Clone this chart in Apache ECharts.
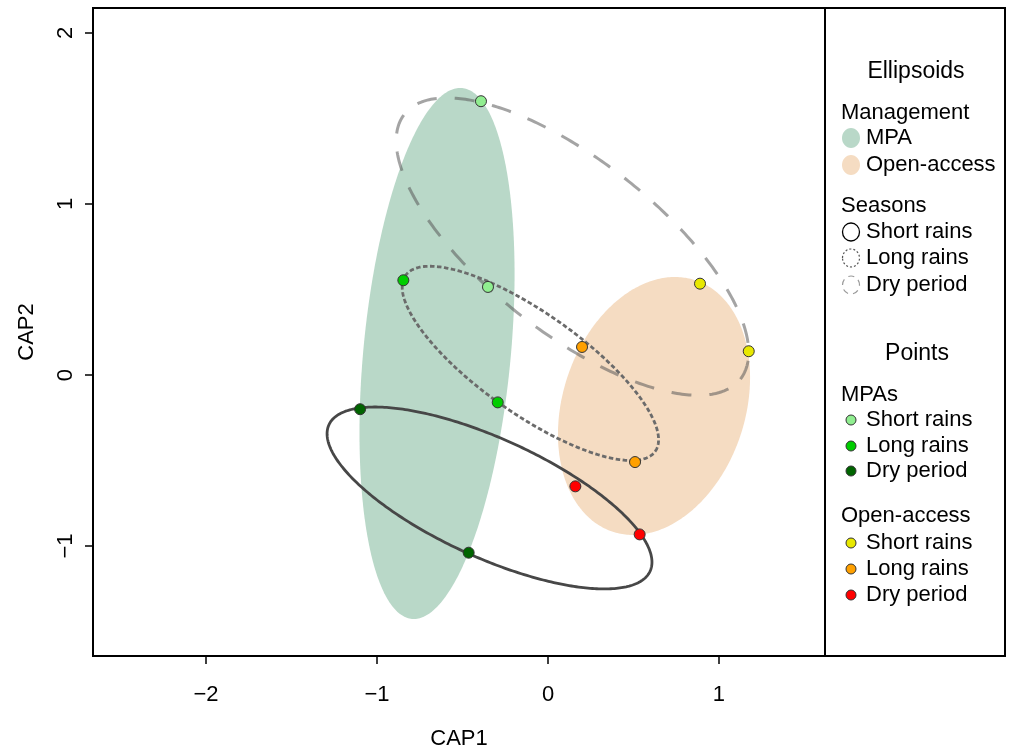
<!DOCTYPE html>
<html>
<head>
<meta charset="utf-8">
<script src="https://cdn.jsdelivr.net/npm/echarts@6/dist/echarts.min.js"></script>
<style>
html,body{margin:0;padding:0;background:#fff;}
#chart{width:1013px;height:749px;}
</style>
</head>
<body>
<div id="chart"></div>
<script>
// ---- Data ----
const seasons = ['Short rains', 'Long rains', 'Dry period'];
const xTicks = [-2, -1, 0, 1];
const yTicks = [-1, 0, 1, 2];

// Points: [CAP1, CAP2]
const mpaShort = [[-0.392, 1.601], [-0.351, 0.515]];
const mpaLong  = [[-0.846, 0.554], [-0.294, -0.160]];
const mpaDry   = [[-1.099, -0.200], [-0.464, -1.039]];
const oaShort  = [[0.889, 0.534], [1.174, 0.139]];
const oaLong   = [[0.199, 0.164], [0.509, -0.509]];
const oaDry    = [[0.160, -0.651], [0.536, -0.932]];

// Ellipses: [centre CAP1, centre CAP2, semi-major, semi-minor, angle (deg)]
const mpaEllipse   = [-0.649, 0.126, 1.559, 0.431, 84.6];
const openEllipse  = [0.620, -0.181, 0.774, 0.534, 71.9];
const shortEllipse = [0.143, 0.751, 1.251, 0.503, -38.25];
const longEllipse  = [-0.103, 0.068, 0.893, 0.295, -35.15];
const dryEllipse   = [-0.342, -0.719, 1.032, 0.347, -24.5];

// ---- Helpers ----
function ellipsePoints(e, n) {
  const [cx, cy, a, b, deg] = e;
  const t = deg * Math.PI / 180, ct = Math.cos(t), st = Math.sin(t);
  const pts = [];
  for (let i = 0; i < n; i++) {
    const u = 2 * Math.PI * i / n;
    pts.push([cx + a * Math.cos(u) * ct - b * Math.sin(u) * st,
              cy + a * Math.cos(u) * st + b * Math.sin(u) * ct]);
  }
  return pts;
}
function ellipseSeries(e, style, z) {
  const pts = ellipsePoints(e, 360);
  return {
    type: 'custom', coordinateSystem: 'cartesian2d', silent: true, z: z,
    data: [[e[0], e[1]]], encode: {x: 0, y: 1},
    renderItem: function (params, api) {
      return {type: 'polygon', shape: {points: pts.map(p => api.coord(p))}, style: style};
    }
  };
}
const FONT = '"Liberation Sans", Arial, Helvetica, sans-serif';
function pointSeries(name, data, color) {
  return {
    type: 'scatter', name: name, data: data, z: 5, symbol: 'circle', symbolSize: 11,
    itemStyle: {color: color, borderColor: '#333', borderWidth: 1, opacity: 1}
  };
}
const minus = v => String(v).replace('-', '\u2212');

const ptColors = {
  mpa: ['#90EE90', '#00CD00', '#006400'],
  oa: ['#E8E800', '#FFA000', '#FF0000']
};

// ---- Legend graphics ----
const LX = 841, SX = 851, TX = 866;
const legend = [];
function txt(x, y, s, size, align) {
  legend.push({type: 'text', x: x, y: y, style: {text: s, font: (size || 22) + 'px ' + FONT, fill: '#000', textVerticalAlign: 'middle', textAlign: align || 'left'}});
}
legend.push({type: 'rect', shape: {x: 825, y: 8, width: 180, height: 648}, style: {fill: 'none', stroke: '#000', lineWidth: 2}});
txt(916, 72, 'Ellipsoids', 23, 'center');
txt(LX, 113, 'Management');
legend.push({type: 'ellipse', shape: {cx: SX, cy: 138, rx: 9, ry: 10}, style: {fill: '#B9D8C8'}});
txt(TX, 138, 'MPA');
legend.push({type: 'ellipse', shape: {cx: SX, cy: 165, rx: 9, ry: 10}, style: {fill: '#F5DCC2'}});
txt(TX, 165, 'Open-access');
txt(LX, 206, 'Seasons');
legend.push({type: 'ellipse', shape: {cx: SX, cy: 232, rx: 8.5, ry: 9}, style: {fill: 'none', stroke: '#000', lineWidth: 1.3}});
txt(TX, 232, seasons[0]);
legend.push({type: 'ellipse', shape: {cx: SX, cy: 258, rx: 8.5, ry: 9}, style: {fill: 'none', stroke: '#555', lineWidth: 1.2, lineDash: [2, 2]}});
txt(TX, 258, seasons[1]);
legend.push({type: 'ellipse', shape: {cx: SX, cy: 285, rx: 8.5, ry: 9}, style: {fill: 'none', stroke: '#999', lineWidth: 1.2, lineDash: [6, 5]}});
txt(TX, 285, seasons[2]);
txt(917, 354, 'Points', 23, 'center');
txt(LX, 395, 'MPAs');
[420, 446, 471].forEach((y, i) => {
  legend.push({type: 'circle', shape: {cx: SX, cy: y, r: 5}, style: {fill: ptColors.mpa[i], stroke: '#333', lineWidth: 1}});
  txt(TX, y, seasons[i]);
});
txt(LX, 516, 'Open-access');
[543, 569, 595].forEach((y, i) => {
  legend.push({type: 'circle', shape: {cx: SX, cy: y, r: 5}, style: {fill: ptColors.oa[i], stroke: '#333', lineWidth: 1}});
  txt(TX, y, seasons[i]);
});

// ---- Chart ----
const chart = echarts.init(document.getElementById('chart'), null, {renderer: 'canvas'});
chart.setOption({
  animation: false,
  backgroundColor: '#fff',
  grid: {left: 93, top: 8, width: 732, height: 648, containLabel: false, outerBoundsMode: 'none',
         show: true, borderColor: '#000', borderWidth: 2, backgroundColor: 'transparent'},
  xAxis: {
    type: 'value', min: -2.661, max: 1.62,
    axisLine: {show: true, onZero: false, lineStyle: {color: '#000', width: 2}},
    axisTick: {show: true, customValues: xTicks, length: 8, lineStyle: {color: '#000', width: 1.5}},
    axisLabel: {customValues: xTicks, formatter: minus, fontSize: 22, fontFamily: FONT, color: '#000', margin: 28},
    splitLine: {show: false},
    name: 'CAP1', nameLocation: 'middle', nameGap: 72,
    nameTextStyle: {fontSize: 22, fontFamily: FONT, color: '#000'}
  },
  yAxis: {
    type: 'value', min: -1.643, max: 2.146,
    axisLine: {show: true, onZero: false, lineStyle: {color: '#000', width: 2}},
    axisTick: {show: true, customValues: yTicks, length: 8, lineStyle: {color: '#000', width: 1.5}},
    axisLabel: {customValues: yTicks, formatter: minus, fontSize: 22, fontFamily: FONT, color: '#000', margin: 16, rotate: 90},
    splitLine: {show: false},
    name: 'CAP2', nameLocation: 'middle', nameGap: 55,
    nameTextStyle: {fontSize: 22, fontFamily: FONT, color: '#000'}
  },
  series: [
    ellipseSeries(mpaEllipse, {fill: '#B9D8C8', stroke: 'none'}, 1),
    ellipseSeries(openEllipse, {fill: '#F5DCC2', stroke: 'none'}, 1),
    ellipseSeries(shortEllipse, {fill: 'none', stroke: 'rgba(90,90,90,0.55)', lineWidth: 3, lineDash: [20, 18]}, 2),
    ellipseSeries(longEllipse, {fill: 'none', stroke: '#6b6b6b', lineWidth: 2.8, lineDash: [4.5, 2.5]}, 2),
    ellipseSeries(dryEllipse, {fill: 'none', stroke: '#474747', lineWidth: 2.8}, 2),
    pointSeries('MPA ' + seasons[0], mpaShort, ptColors.mpa[0]),
    pointSeries('MPA ' + seasons[1], mpaLong, ptColors.mpa[1]),
    pointSeries('MPA ' + seasons[2], mpaDry, ptColors.mpa[2]),
    pointSeries('Open-access ' + seasons[0], oaShort, ptColors.oa[0]),
    pointSeries('Open-access ' + seasons[1], oaLong, ptColors.oa[1]),
    pointSeries('Open-access ' + seasons[2], oaDry, ptColors.oa[2])
  ],
  graphic: legend
});
</script>
</body>
</html>
